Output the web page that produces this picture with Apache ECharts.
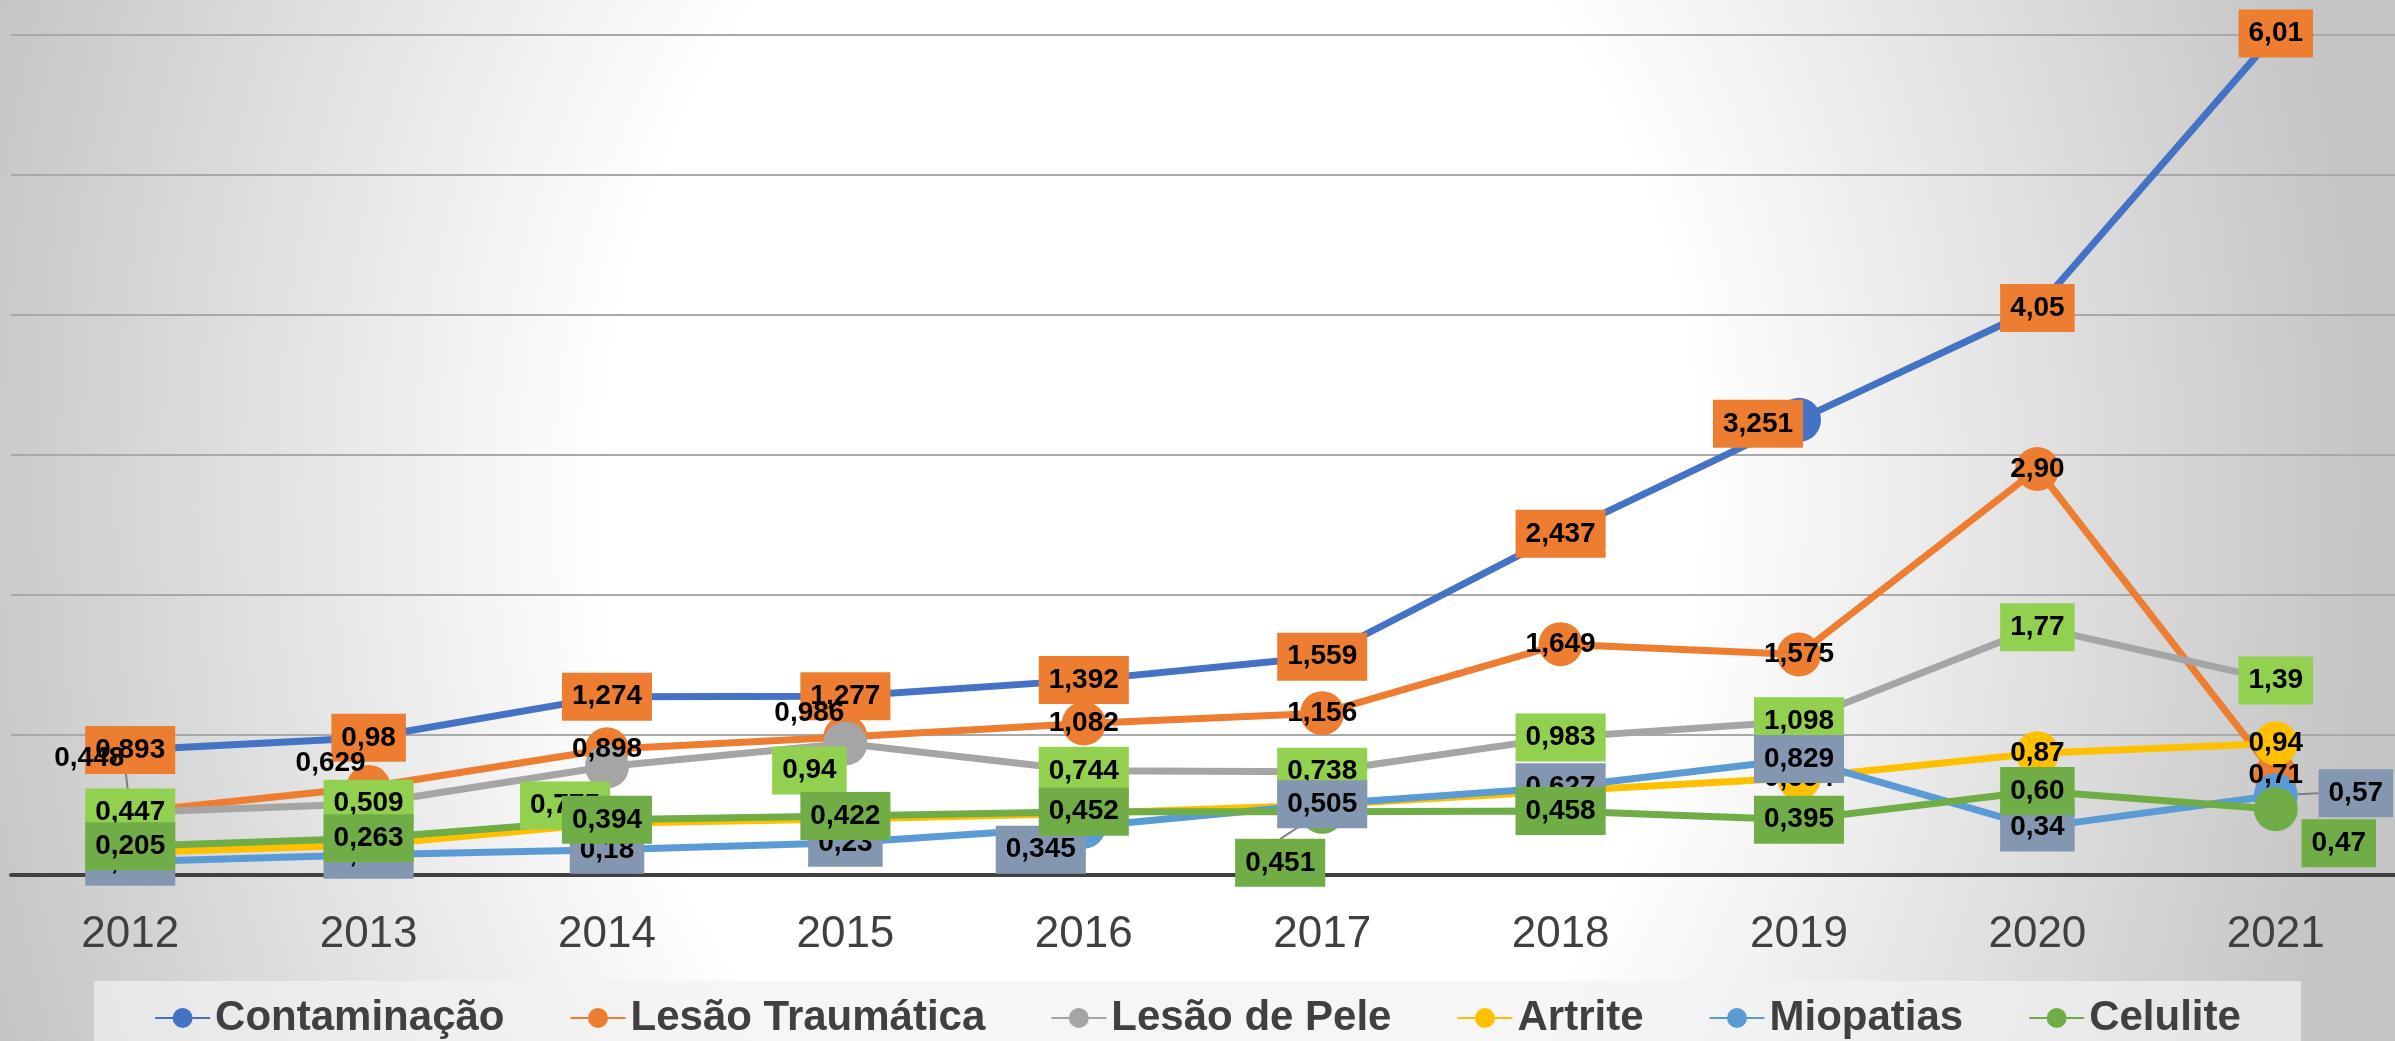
<!DOCTYPE html>
<html>
<head>
<meta charset="utf-8">
<script src="https://cdn.jsdelivr.net/npm/echarts@6/dist/echarts.min.js"></script>
<style>
  html, body { margin: 0; padding: 0; }
  #chart {
    width: 2395px;
    height: 1041px;
    background: radial-gradient(1212px 1588px at 1150px 500px, #ffffff 0%, #ffffff 45%, #c5c5c5 100%);
  }
</style>
</head>
<body>
<div id="chart"></div>
<script>
// anos
const anos = ['2012', '2013', '2014', '2015', '2016', '2017', '2018', '2019', '2020', '2021']

// valores por série
const contaminacao = [0.893, 0.98, 1.274, 1.277, 1.392, 1.559, 2.437, 3.251, 4.05, 6.01]
const lesaoTraumatica = [0.448, 0.629, 0.898, 0.986, 1.082, 1.156, 1.649, 1.575, '2.90', 0.71]
const lesaoPele = [0.447, 0.509, 0.775, 0.94, 0.744, 0.738, 0.983, 1.098, 1.77, 1.39]
const artrite = [0.16, 0.215, 0.37, 0.40, 0.44, 0.50, 0.60, 0.694, 0.87, 0.94]
const miopatias = [0.095, 0.145, 0.18, 0.23, 0.345, 0.505, 0.627, 0.829, 0.34, 0.57]
const celulite = [0.205, 0.263, 0.394, 0.422, 0.452, 0.451, 0.458, 0.395, '0.60', 0.47]

const FONT = 'Liberation Sans'

// rótulos deslocados à mão: índice -> [dx, dy, linha de chamada?]
const moved = {
  'Contaminação': { 7: [-41, 4] },
  'Lesão Traumática': { 0: [-41, -54, true], 1: [-38, -24], 3: [-36, -24] },
  'Lesão de Pele': { 2: [-42, 39], 3: [-36, 27] },
  'Miopatias': { 4: [-43, 23], 9: [80, -2, true] },
  'Celulite': { 5: [-42, 51, true], 9: [63, 34] }
}

function makeSeries(name, values, color, labelBg) {
  let offs = moved[name] || {}
  // só os pontos com linha de chamada viram objeto
  let data = values.map((v, i) => (offs[i] && offs[i][2]) ? { value: v, labelLine: { show: true } } : v)
  return {
    name: name,
    type: 'line',
    data: data,
    clip: false,
    symbol: 'circle',
    symbolSize: 44,
    showAllSymbol: true,
    color: color,
    lineStyle: { width: 7, color: color },
    itemStyle: { color: color },
    emphasis: { disabled: true },
    label: {
      show: true,
      position: 'inside',
      formatter: p => {
        let raw = (p.data !== null && typeof p.data === 'object') ? p.data.value : p.data
        return String(raw).replace('.', ',')
      },
      fontFamily: FONT,
      fontSize: 28,
      fontWeight: 'bold',
      lineHeight: 28,
      color: '#000',
      backgroundColor: labelBg || 'transparent',
      padding: labelBg ? [10, 10] : 0
    },
    labelLine: {
      show: false,
      lineStyle: { color: '#7f7f7f', width: 2 }
    },
    labelLayout: function (params) {
      let o = offs[params.dataIndex]
      return o ? { dx: o[0], dy: o[1] } : {}
    }
  }
}

let chart = echarts.init(document.getElementById('chart'))

let option = {
  animation: false,
  grid: { left: 11, top: 35, width: 2398, height: 840 },
  xAxis: {
    type: 'category',
    data: anos,
    boundaryGap: true,
    axisTick: { show: false },
    axisLine: { lineStyle: { color: '#404040', width: 4 } },
    axisLabel: { fontFamily: FONT, fontSize: 44, color: '#404040', margin: 38 }
  },
  yAxis: {
    type: 'value',
    min: 0,
    max: 6,
    interval: 1,
    axisLabel: { show: false },
    axisLine: { show: false },
    axisTick: { show: false },
    splitLine: { lineStyle: { color: '#a9a9a9', width: 2 } }
  },
  legend: {
    top: 981,
    left: 'center',
    padding: [16, 60, 20, 60],
    backgroundColor: 'rgba(242,242,242,0.7)',
    itemGap: 65,
    itemWidth: 55,
    itemHeight: 25,
    textStyle: { fontFamily: FONT, fontSize: 42, fontWeight: 'bold', color: '#404040' },
    data: ['Contaminação', 'Lesão Traumática', 'Lesão de Pele', 'Artrite', 'Miopatias', 'Celulite']
  },
  series: [
    makeSeries('Contaminação', contaminacao, '#4472C4', '#ED7D31'),
    makeSeries('Lesão Traumática', lesaoTraumatica, '#ED7D31', null),
    makeSeries('Lesão de Pele', lesaoPele, '#A5A5A5', '#92D050'),
    makeSeries('Artrite', artrite, '#FFC000', null),
    makeSeries('Miopatias', miopatias, '#5B9BD5', '#8497B0'),
    makeSeries('Celulite', celulite, '#70AD47', '#70AD47')
  ]
}

chart.setOption(option)
</script>
</body>
</html>
